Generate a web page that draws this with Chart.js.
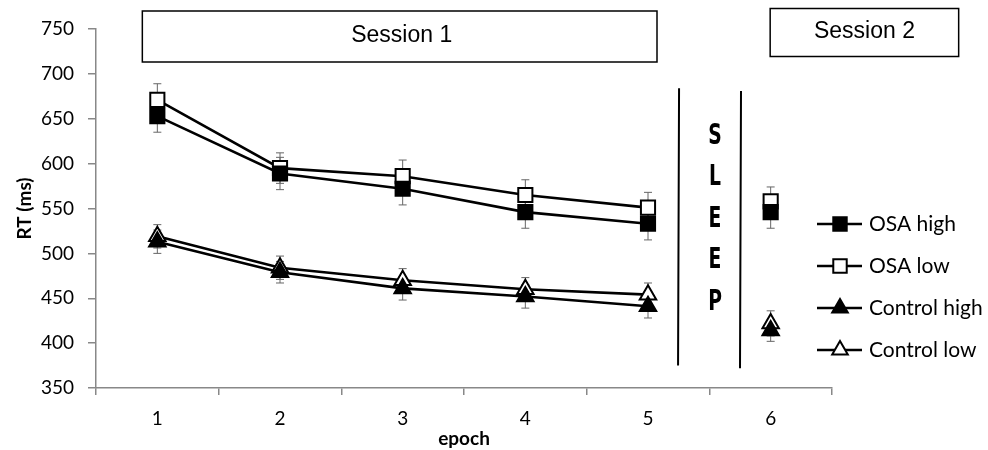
<!DOCTYPE html>
<html>
<head>
<meta charset="utf-8">
<script src="https://cdn.jsdelivr.net/npm/chart.js@4/dist/chart.umd.min.js"></script>
<style>
  html, body { margin: 0; padding: 0; background: #fff; }
  #wrap { width: 988px; height: 450px; }
</style>
</head>
<body>
<div id="wrap"><canvas id="rtChart" width="988" height="450"></canvas></div>
<script>
// data
const epochs = ["1", "2", "3", "4", "5", "6"];
const osaHigh = [653, 589, 572, 546, 533, 546];
const osaLow = [671, 595, 586, 565, 551, 558];
const controlHigh = [513, 479, 461, 452, 441, 414];
const controlLow = [519, 484, 470, 460, 454, 422];
const osaHighErr = [18, 18, 18, 18, 18, 18];
const osaLowErr = [18, 17, 18, 17, 17, 16];
const controlHighErr = [13, 12, 13, 13, 13, 12];
const controlLowErr = [13, 13, 13, 13, 13, 14];
const yTicks = [350, 400, 450, 500, 550, 600, 650, 700, 750];

const tickFont = { family: "Lato, 'Open Sans', sans-serif", size: 19 };
const titleFont = { family: "Lato, sans-serif", size: 19, weight: "bold" };

// no line between session 1 (epoch 5) and session 2 (epoch 6)
const noBridge = ctx => ctx.p1DataIndex === 5 ? "rgba(0,0,0,0)" : "#000";

function series(label, data, err, style, filled, radius) {
  return {
    label, data, err,
    borderColor: "#000",
    borderWidth: 2.6,
    tension: 0,
    pointStyle: style,
    pointRadius: radius,
    pointBorderWidth: 2,
    pointBorderColor: "#000",
    pointBackgroundColor: filled ? "#000" : "#fff",
    segment: { borderColor: noBridge },
    filled
  };
}

const datasets = [
  series("OSA high", osaHigh, osaHighErr, "rect", true, 10),
  series("OSA low", osaLow, osaLowErr, "rect", false, 10),
  series("Control high", controlHigh, controlHighErr, "triangle", true, 9.5),
  series("Control low", controlLow, controlLowErr, "triangle", false, 9.5)
];

// error whiskers, positioned through the chart scales
const errorBars = {
  id: "errorBars",
  beforeDatasetsDraw(chart) {
    const { ctx, scales: { x, y } } = chart;
    ctx.save();
    ctx.strokeStyle = "#666";
    ctx.lineWidth = 1;
    chart.data.datasets.forEach(ds => {
      ds.data.forEach((v, i) => {
        const px = x.getPixelForValue(i);
        const top = y.getPixelForValue(v + ds.err[i]);
        const bot = y.getPixelForValue(v - ds.err[i]);
        ctx.beginPath();
        ctx.moveTo(px, top); ctx.lineTo(px, bot);
        ctx.moveTo(px - 4, top); ctx.lineTo(px + 4, top);
        ctx.moveTo(px - 4, bot); ctx.lineTo(px + 4, bot);
        ctx.stroke();
      });
    });
    ctx.restore();
  }
};

function marker(ctx, style, filled, cx, cy, r) {
  ctx.beginPath();
  if (style === "rect") {
    const s = r * Math.SQRT1_2;
    ctx.rect(cx - s, cy - s, 2 * s, 2 * s);
  } else {
    ctx.moveTo(cx, cy - r);
    ctx.lineTo(cx + 0.866 * r, cy + 0.5 * r);
    ctx.lineTo(cx - 0.866 * r, cy + 0.5 * r);
    ctx.closePath();
  }
  ctx.fillStyle = filled ? "#000" : "#fff";
  ctx.fill();
  ctx.lineWidth = 2;
  ctx.strokeStyle = "#000";
  ctx.stroke();
}

// session boxes, sleep divider and legend
const decorations = {
  id: "decorations",
  afterDraw(chart) {
    const { ctx, scales: { x, y } } = chart;
    const step = x.getPixelForValue(1) - x.getPixelForValue(0);
    ctx.save();

    // session boxes
    ctx.strokeStyle = "#000";
    ctx.lineWidth = 1.5;
    ctx.font = "23px 'Liberation Sans', Arial, sans-serif";
    ctx.fillStyle = "#000";
    ctx.textAlign = "center";
    ctx.textBaseline = "middle";
    const s1l = x.getPixelForValue(0) - 15, s1r = x.getPixelForValue(4) + 9;
    ctx.strokeRect(s1l, 11, s1r - s1l, 51);
    ctx.fillText("Session 1", (s1l + s1r) / 2 + 2, 36);
    const s2l = x.getPixelForValue(5) - 0.5, s2r = x.getPixelForValue(5) + 188;
    ctx.strokeRect(s2l, 8.5, s2r - s2l, 48);
    ctx.fillText("Session 2", (s2l + s2r) / 2, 32);

    // sleep divider
    const lx = x.getPixelForValue(4) + step * 0.245;
    const rx = x.getPixelForValue(4) + step * 0.75;
    ctx.lineWidth = 2;
    ctx.beginPath();
    ctx.moveTo(lx + 1, y.getPixelForValue(684)); ctx.lineTo(lx, y.getPixelForValue(375));
    ctx.moveTo(rx + 1, y.getPixelForValue(681)); ctx.lineTo(rx, y.getPixelForValue(372));
    ctx.stroke();
    const mid = (lx + rx) / 2 + 6;
    ctx.font = "bold 29px 'DejaVu Sans Condensed', 'Liberation Sans Narrow', sans-serif";
    ["S", "L", "E", "E", "P"].forEach((ch, i) => {
      ctx.save();
      ctx.translate(mid, 136 + i * 41.5);
      ctx.scale(0.72, 1);
      ctx.fillText(ch, 0, 0);
      ctx.restore();
    });

    // legend
    ctx.font = "21px Lato, sans-serif";
    ctx.textAlign = "left";
    chart.data.datasets.forEach((ds, i) => {
      const ly = 224 + i * 42;
      ctx.strokeStyle = "#000";
      ctx.lineWidth = 2.6;
      ctx.beginPath();
      ctx.moveTo(817, ly); ctx.lineTo(862, ly);
      ctx.stroke();
      marker(ctx, ds.pointStyle, ds.filled, 840, ly, ds.pointStyle === "rect" ? 9.5 : 9);
      ctx.fillStyle = "#000";
      ctx.fillText(ds.label, 869, ly);
    });
    ctx.restore();
  }
};

new Chart(document.getElementById("rtChart"), {
  type: "line",
  data: { labels: epochs, datasets },
  plugins: [errorBars, decorations],
  options: {
    responsive: false,
    animation: false,
    layout: { padding: { top: 29, right: 156, left: 0, bottom: 0 } },
    plugins: { legend: { display: false }, tooltip: { enabled: false } },
    scales: {
      x: {
        offset: true,
        grid: { drawOnChartArea: false, offset: true, tickLength: 7, color: "#888", lineWidth: 1.5 },
        border: { color: "#888", width: 1.5 },
        ticks: { font: tickFont, color: "#000", padding: 12, maxRotation: 0 },
        title: { display: true, text: "epoch", font: titleFont, color: "#000", padding: { top: 1, bottom: 0 } },
        afterFit: s => { s.height = 62; }
      },
      y: {
        min: 350,
        max: 750,
        afterBuildTicks: s => { s.ticks = yTicks.map(v => ({ value: v })); },
        grid: { drawOnChartArea: false, tickLength: 8, color: "#888", lineWidth: 1.5 },
        border: { color: "#888", width: 1.5 },
        ticks: { font: tickFont, color: "#000", padding: 14 },
        title: { display: true, text: "RT (ms)", font: titleFont, color: "#000", padding: { top: 13, bottom: 0 } },
        afterFit: s => { s.width = 96; }
      }
    }
  }
});
</script>
</body>
</html>
